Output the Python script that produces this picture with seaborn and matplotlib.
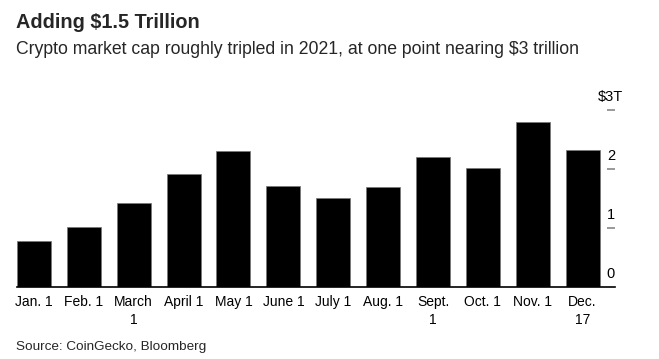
import matplotlib
matplotlib.use("Agg")
import matplotlib.pyplot as plt
import seaborn as sns
import pandas as pd

dates = ["Jan. 1", "Feb. 1", "March\n1", "April 1", "May 1", "June 1",
         "July 1", "Aug. 1", "Sept.\n1", "Oct. 1", "Nov. 1", "Dec.\n17"]
market_cap = [0.78, 1.02, 1.42, 1.92, 2.31, 1.72, 1.51, 1.70, 2.20, 2.02, 2.79, 2.33]
y_ticks = [0, 1, 2, 3]
y_labels = ["0", "1", "2", "$3T"]

title = "Adding $1.5 Trillion"
subtitle = "Crypto market cap roughly tripled in 2021, at one point nearing $3 trillion"
source = "Source: CoinGecko, Bloomberg"

sns.set_theme(style="white")
plt.rcParams["font.family"] = ["Liberation Sans", "DejaVu Sans"]

df = pd.DataFrame({"date": dates, "cap": market_cap})

W, H = 659, 359
fig = plt.figure(figsize=(W / 100, H / 100), dpi=100)
ax = fig.add_axes([17 / W, 1 - 287 / H, (615 - 17) / W, (287 - 110) / H])

sns.barplot(data=df, x="date", y="cap", color="black", width=0.68,
            saturation=1, edgecolor="#777777", linewidth=0.5, ax=ax)

ax.set_xlim(-0.34, 11.65)
ax.set_ylim(0, 3)
for s in ["top", "left", "right"]:
    ax.spines[s].set_visible(False)
ax.spines["bottom"].set_color("black")
ax.spines["bottom"].set_linewidth(1.2)
ax.set_xlabel("")
ax.set_ylabel("")
ax.tick_params(axis="x", length=0, pad=6, labelsize=10, colors="black")
for lbl in ax.get_xticklabels():
    lbl.set_linespacing(1.3)
    lbl.set_verticalalignment("top")

ax.yaxis.tick_right()
ax.set_yticks(y_ticks[1:])
ax.set_yticklabels([])
ax.tick_params(axis="y", direction="in", length=5.5, width=1.2, color="#888888", right=True, pad=0)

for v, t in zip(y_ticks, y_labels):
    ax.annotate(t, xy=(1.0, v), xycoords=("axes fraction", "data"),
                xytext=(-3, 4), textcoords="offset points",
                ha="center", va="bottom", fontsize=10.5, color="black",
                annotation_clip=False)

fig.text(16 / W, 1 - 23 / H, title, fontsize=14.3, fontweight="bold", va="center", ha="left")
fig.text(16 / W, 1 - 49 / H, subtitle, fontsize=12.7, va="center", ha="left")
fig.text(16 / W, 1 - 347 / H, source, fontsize=9.7, va="center", ha="left")

fig.savefig("out.png", dpi=100)
